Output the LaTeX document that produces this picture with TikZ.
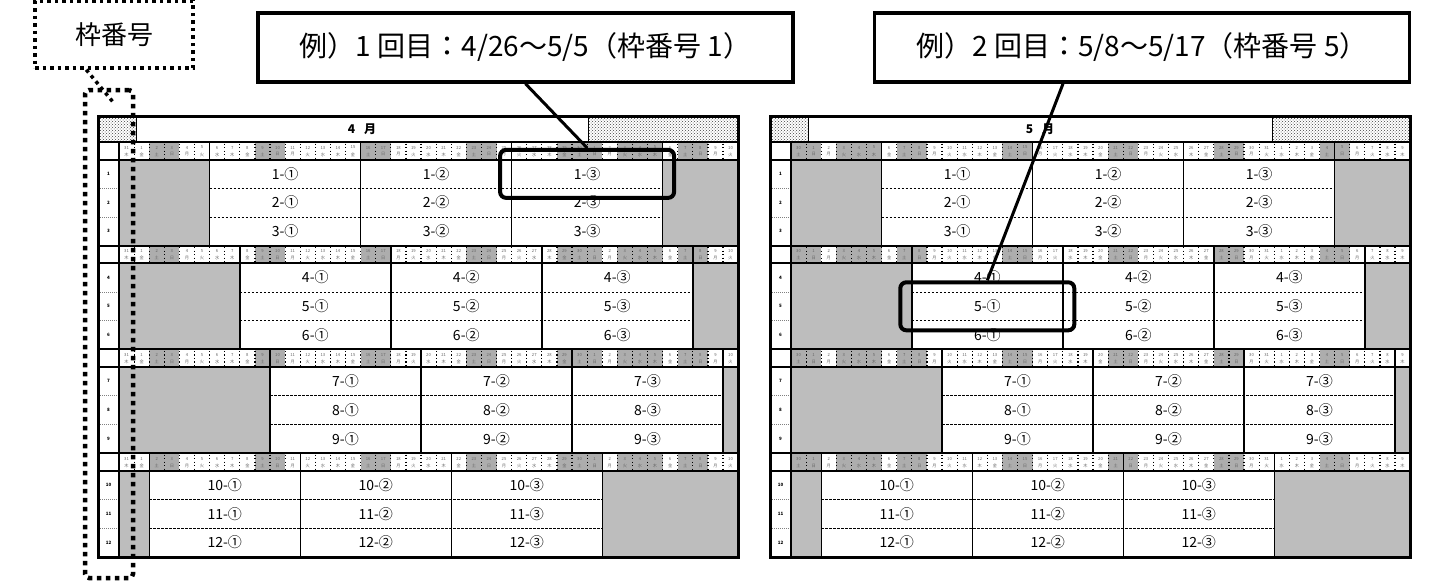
\documentclass[tikz,border=0pt]{standalone}
\usepackage{fontspec}
\setmainfont{Noto Sans CJK JP}
\usetikzlibrary{patterns}
\begin{document}
\begin{tikzpicture}[x=1pt,y=-1pt,
  outer/.style={draw,line width=3pt},
  sep/.style={line width=2pt},
  vline/.style={line width=1.4pt},
  rowsep/.style={line width=0.8pt,dash pattern=on 2.5pt off 1.5pt},
  numsep/.style={gray,line width=0.8pt,dash pattern=on 1pt off 1pt},
  dayline/.style={line width=1.2pt,dash pattern=on 1.2pt off 2.3pt},
  hatch/.style={draw,line width=1pt,pattern=crosshatch dots,pattern color=black!75},
  blank/.style={fill=black!26},
  offday/.style={fill=black!32},
  cell/.style={inner sep=0pt,font=\fontsize{14}{14}\selectfont},
  daytext/.style={inner sep=0pt,text=black!60,font=\fontsize{4.2}{4.2}\selectfont},
  rownum/.style={inner sep=0pt,font=\fontsize{4.5}{4.5}\selectfont\bfseries},
  title/.style={inner sep=0pt,font=\fontsize{12}{12}\selectfont\bfseries},
  hilite/.style={draw,line width=4pt,rounded corners=6pt,minimum width=174,minimum height=48},
  callout/.style={draw,line width=3.5pt,fill=white,minimum width=535,minimum height=69,font=\fontsize{28}{28}\selectfont},
  tagbox/.style={draw,line width=3.5pt,dash pattern=on 3.5pt off 4pt,minimum width=158,minimum height=67,font=\fontsize{26}{26}\selectfont},
  tagline/.style={line width=3.5pt,dash pattern=on 3.5pt off 4pt},
  tagframe/.style={draw,line width=4.5pt,dash pattern=on 4.5pt off 4.5pt,rounded corners=4pt,minimum width=48,minimum height=488}]
\fill[white] (0,0) rectangle (1434,582);
\useasboundingbox (0,0) rectangle (1434,582);
\foreach \tx/\mon/\hsp/\wkst/\dfirst/\mlen/\hols in {98/4/490/4/31/30/{29,33,34,35},770/5/502/6/30/31/{3,4,5}} {
  \draw[hatch] (\tx,116) rectangle (\tx+38,142);
  \draw[hatch] (\tx+\hsp,116) rectangle (\tx+640,142);
  \node[title] (m-\mon) at ({\tx+(38+\hsp)/2},129) {\mon\hspace{9pt}月};
  \foreach \blk/\cstart in {0/6,1/8,2/10,3/2} {
    \pgfmathsetmacro\ry{142+103.7*\blk}
    \pgfmathsetmacro\cy{\ry+17.5}
    \foreach \hd in \hols \fill[offday] ({\tx+21+15.1*\hd},\ry) rectangle ++(15.1,17.5);
    \foreach \i in {0,...,40} {
      \pgfmathtruncatemacro\wday{mod(\wkst+\i,7)}
      \pgfmathtruncatemacro\dnum{\i==0 ? \dfirst : (\i>\mlen ? \i-\mlen : \i)}
      \ifnum\wday=0 \fill[offday] ({\tx+21+15.1*\i},\ry) rectangle ++(15.1,17.5); \fi
      \ifnum\wday=6 \fill[offday] ({\tx+21+15.1*\i},\ry) rectangle ++(15.1,17.5); \fi
      \ifnum\i>0 \draw[dayline] ({\tx+21+15.1*\i},\ry+1.5) -- ++(0,15); \fi
      \node[daytext] (d-\mon-\blk-\i) at ({\tx+21+15.1*(\i+0.5)},\ry+5.5) {\dnum};
      \node[daytext] (w-\mon-\blk-\i) at ({\tx+21+15.1*(\i+0.5)},\ry+12.5) {\ifcase\wday 日\or 月\or 火\or 水\or 木\or 金\or 土\fi};
    }
    \fill[blank] (\tx+21,\cy) rectangle ({\tx+21+15.1*\cstart},\cy+86.2);
    \fill[blank] ({\tx+21+15.1*(\cstart+30)},\cy) rectangle (\tx+640,\cy+86.2);
    \foreach \row in {1,2,3} \foreach \col in {1,2,3} {
      \pgfmathtruncatemacro\num{3*\blk+\row}
      \node[cell] (c-\mon-\num-\col) at ({\tx+21+15.1*(\cstart+10*\col-5)},{\cy+28.73*(\row-0.5)}) {\num-\ifcase\col\or ①\or ②\or ③\fi};
      \ifnum\col=1 \node[rownum] (r-\mon-\num) at (\tx+10.5,{\cy+28.73*(\row-0.5)}) {\num}; \fi
    }
    \foreach \row in {1,2} {
      \draw[rowsep] ({\tx+21+15.1*\cstart},{\cy+28.73*\row}) -- ++(453,0);
      \draw[numsep] (\tx+2,{\cy+28.73*\row}) -- ++(17,0);
    }
    \foreach \col in {0,1,2,3} \draw[vline] ({\tx+21+15.1*(\cstart+10*\col)},\ry) -- ++(0,103.7);
    \draw[sep] (\tx,\ry) -- ++(640,0);
    \draw[sep] (\tx,\cy) -- ++(640,0);
  }
  \draw[vline] (\tx+21,142) -- (\tx+21,557);
  \draw[outer] (\tx,116) rectangle (\tx+640,557);
}
\node[hilite] (hl1) at (c-4-1-3) {};
\node[hilite] (hl2) at (c-5-5-1) {};
\node[callout] (ex1) at (525.5,47.5) {例）1 回目：4/26～5/5（枠番号 1）};
\node[callout] (ex2) at (1142,47.5) {例）2 回目：5/8～5/17（枠番号 5）};
\draw[line width=3pt] (ex1.south) -- (hl1.north);
\draw[line width=3pt] ([xshift=-79pt]ex2.south) -- (hl2.north);
\node[tagbox] (tag) at (114,34.5) {枠番号};
\node[tagframe] (nf) at (109,334) {};
\coordinate (tagend) at (113,102);
\draw[tagline] ([xshift=53pt]tag.south west) -- (tagend);
\end{tikzpicture}
\end{document}
